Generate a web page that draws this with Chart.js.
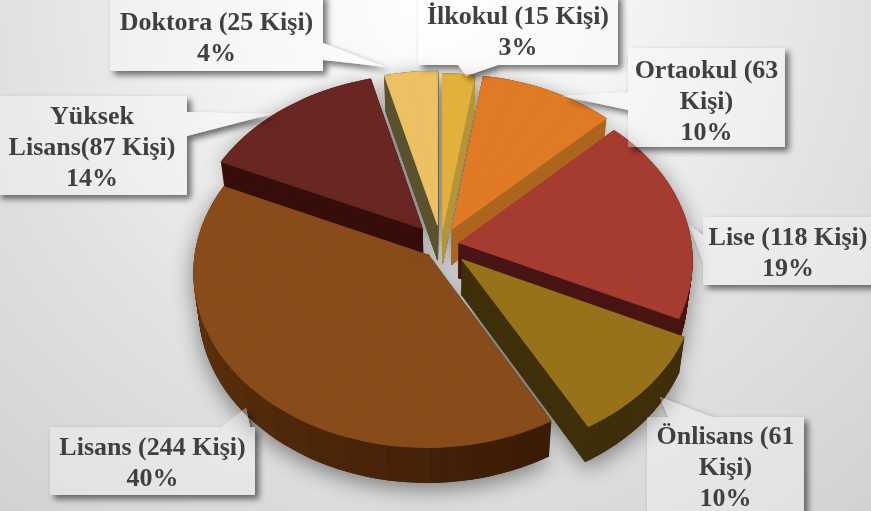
<!DOCTYPE html>
<html lang="tr"><head><meta charset="utf-8">
<style>
html,body{margin:0;padding:0;width:871px;height:511px;overflow:hidden;
background:radial-gradient(circle at 50% 0%,#ffffff 0%,#f4f4f4 28%,#e2e2e2 62%,#d2d2d2 100%);}
canvas{display:block}
</style>
<script src="https://cdn.jsdelivr.net/npm/chart.js@4/dist/chart.umd.min.js"></script>
</head><body>
<canvas id="c" width="871" height="511"></canvas>
<script>
const categories=["İlkokul","Ortaokul","Lise","Önlisans","Lisans","Yüksek Lisans","Doktora"];
const persons=[15,63,118,61,244,87,25];
const labelLines=[
 ["İlkokul (15 Kişi)","3%"],
 ["Ortaokul (63","Kişi)","10%"],
 ["Lise (118 Kişi)","19%"],
 ["Önlisans (61","Kişi)","10%"],
 ["Lisans (244 Kişi)","40%"],
 ["Yüksek","Lisans(87 Kişi)","14%"],
 ["Doktora (25 Kişi)","4%"]
];
const topColors=["#e2b13c","#e07a25","#a63c30","#98721a","#874c19","#6a2622","#ebc163"];
const sideColors=["#b8953a","#ad661f","#4a1614","#3f300b","#3d1d08","#380f0b","#5c5330"];
const sideEndColors=["#b8953a","#ad661f","#4a1614","#3f300b","#6a3911","#380f0b","#5c5330"];
const explosions=[0.10,0.105,0.08,0.125,0.08,0.125,0.12];
const paintOrder=[6,5,0,1,2,4,3];

// Callout layout: box [x,y,w,h], text centre y, wedge [base1, base2, tip]
const callouts=[
 {box:[418,-6,200,71],ty:32.5,wedge:[[458,65],[498,65],[466,76]]},
 {box:[628,48,157,99],ty:102.5,wedge:[[628,92],[628,110],[562,96]]},
 {box:[703,217,170,68],ty:254,wedge:[[703,235],[703,262],[690,226]]},
 {box:[647,417,157,100],ty:468.5,wedge:[[668,417],[712,417],[660,397]]},
 {box:[50,427,205,68],ty:464,wedge:[[222,427],[250,427],[246,408]]},
 {box:[-3,96,190,99],ty:148,wedge:[[187,112],[187,136],[272,114]]},
 {box:[110,-6,213,77],ty:39,wedge:[[323,43],[323,60],[386,67]]}
];
const LINE=31;
const view={cx:441,cy:245,a:232,b:172,k:0.095,depth:35,taper:0.0006,step:Math.PI/18};

function project(u,v){const w=1/(1-view.k*v);return [view.cx+view.a*u*w,view.cy+view.b*v*w];}

function mixHex(c1,c2,t){
 const f=(c,i)=>parseInt(c.substr(1+i*2,2),16);
 const out=[0,1,2].map(i=>Math.round(f(c1,i)+(f(c2,i)-f(c1,i))*t));
 return 'rgb('+out.join(',')+')';
}

// Exact 3-point affine map for one narrow wedge of a slice.
function wedgeTransform(el,mid,explode,a1,a2){
 const R=el.outerRadius;
 const ou=Math.cos(mid)*explode,ov=Math.sin(mid)*explode;
 const A=project(ou,ov);
 const P=project(ou+Math.cos(a1),ov+Math.sin(a1));
 const Q=project(ou+Math.cos(a2),ov+Math.sin(a2));
 const e1x=R*Math.cos(a1),e1y=R*Math.sin(a1),e2x=R*Math.cos(a2),e2y=R*Math.sin(a2);
 const det=e1x*e2y-e2x*e1y;
 const px=P[0]-A[0],py=P[1]-A[1],qx=Q[0]-A[0],qy=Q[1]-A[1];
 const m00=(px*e2y-qx*e1y)/det,m01=(qx*e1x-px*e2x)/det;
 const m10=(py*e2y-qy*e1y)/det,m11=(qy*e1x-py*e2x)/det;
 return [m00,m10,m01,m11,A[0]-m00*el.x-m01*el.y,A[1]-m10*el.x-m11*el.y];
}

function drawLayer(ctx,el,idx,colorA,colorB,dy){
 const keep={o:el.options,s:el.startAngle,e:el.endAngle,c:el.circumference};
 const mid=(keep.s+keep.e)/2;
 const n=Math.max(1,Math.ceil((keep.e-keep.s)/view.step));
 const da=(keep.e-keep.s)/n;
 for(let i=0;i<n;i++){
  const a1=keep.s+i*da,a2=a1+da;
  const color=colorA===colorB?colorA:mixHex(colorA,colorB,n>1?i/(n-1):0);
  el.options=Object.assign({},keep.o,{backgroundColor:color,borderColor:color,borderWidth:1,borderJoinStyle:'round',offset:0});
  const t=wedgeTransform(el,mid,explosions[idx],a1,a2);
  ctx.save();
  ctx.translate(view.cx,dy);
  ctx.scale(1-view.taper*dy,1);
  ctx.translate(-view.cx,0);
  ctx.transform(...t);
  el.startAngle=a1;el.endAngle=a2;el.circumference=a2-a1;
  el.draw(ctx);
  ctx.restore();
 }
 el.options=keep.o;el.startAngle=keep.s;el.endAngle=keep.e;el.circumference=keep.c;
}

function calloutPath(ctx,c){
 const [x,y,w,h]=c.box;
 ctx.beginPath();
 ctx.rect(x,y,w,h);
 ctx.moveTo(c.wedge[0][0],c.wedge[0][1]);
 ctx.lineTo(c.wedge[2][0],c.wedge[2][1]);
 ctx.lineTo(c.wedge[1][0],c.wedge[1][1]);
 ctx.closePath();
}

function drawCallout(ctx,c,lines){
 const [x,y,w,h]=c.box;
 ctx.save();
 ctx.save();
 ctx.beginPath();ctx.rect(-50,-50,1000,700);
 ctx.rect(x,y,w,h);
 ctx.moveTo(c.wedge[0][0],c.wedge[0][1]);
 ctx.lineTo(c.wedge[1][0],c.wedge[1][1]);
 ctx.lineTo(c.wedge[2][0],c.wedge[2][1]);
 ctx.closePath();
 ctx.clip('evenodd');
 ctx.shadowColor='rgba(0,0,0,0.55)';ctx.shadowBlur=6;ctx.shadowOffsetX=4;ctx.shadowOffsetY=4;
 ctx.fillStyle='#fff';
 calloutPath(ctx,c);ctx.fill();
 ctx.restore();
 ctx.fillStyle='rgba(255,255,255,0.32)';
 calloutPath(ctx,c);ctx.fill();
 ctx.fillStyle='#404040';
 ctx.font='bold 26px "Liberation Serif"';
 ctx.textAlign='center';ctx.textBaseline='middle';
 const tx=x+w/2,t0=c.ty-(lines.length-1)*LINE/2;
 lines.forEach((t,i)=>ctx.fillText(t,tx,t0+i*LINE));
 ctx.restore();
}

const pie3d={
 id:'pie3d',
 beforeDatasetDraw(){return false;},
 afterDatasetsDraw(chart){
  const ctx=chart.ctx,arcs=chart.getDatasetMeta(0).data;
  // soft ground shadow from a silhouette of the whole pie
  const off=document.createElement('canvas');off.width=871;off.height=511;
  const octx=off.getContext('2d');
  paintOrder.forEach(i=>{drawLayer(octx,arcs[i],i,'#333','#333',view.depth);drawLayer(octx,arcs[i],i,'#333','#333',0);});
  ctx.save();
  ctx.shadowColor='rgba(0,0,0,0.45)';ctx.shadowBlur=22;ctx.shadowOffsetY=6;
  ctx.drawImage(off,0,0);
  ctx.restore();
  paintOrder.forEach(i=>{
   const el=arcs[i];
   for(let d=view.depth;d>=1;d--)drawLayer(ctx,el,i,sideColors[i],sideEndColors[i],d);
   drawLayer(ctx,el,i,topColors[i],topColors[i],0);
  });
  callouts.forEach((c,i)=>drawCallout(ctx,c,labelLines[i]));
 }
};

new Chart(document.getElementById('c'),{
 type:'pie',
 data:{labels:categories,datasets:[{data:persons,backgroundColor:topColors,borderWidth:0,offset:explosions.map(f=>f*800)}]},
 options:{responsive:false,animation:false,
  plugins:{legend:{display:false},tooltip:{enabled:false}}},
 plugins:[pie3d]
});
</script>
</body></html>
